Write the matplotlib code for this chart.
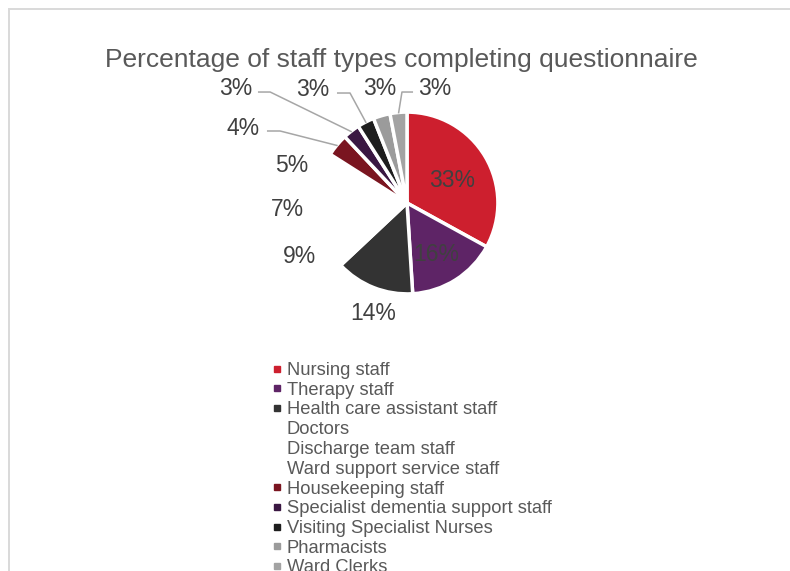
import numpy as np
import matplotlib
matplotlib.use("Agg")
import matplotlib.pyplot as plt
from matplotlib.lines import Line2D
from matplotlib.patches import Rectangle

plt.rcParams['font.family'] = ['Liberation Sans', 'DejaVu Sans']

# data
staff_types = ['Nursing staff', 'Therapy staff', 'Health care assistant staff',
               'Doctors', 'Discharge team staff', 'Ward support service staff',
               'Housekeeping staff', 'Specialist dementia support staff',
               'Visiting Specialist Nurses', 'Pharmacists', 'Ward Clerks']
percentages = [33, 16, 14, 9, 7, 5, 4, 3, 3, 3, 3]
colors = ['#CD1F2E', '#5E2466', '#333333', '#FFFFFF', '#FFFFFF', '#FFFFFF',
          '#7A1520', '#3A1742', '#1E1E1E', '#9B9B9B', '#A3A3A3']

W, H = 790, 571
cx, cy, R = 407, 203, 90   # pie centre / radius in pixels

fig = plt.figure(figsize=(W / 100, H / 100), dpi=100)
ax = fig.add_axes([0, 0, 1, 1])

wedges, _ = ax.pie(percentages, colors=colors, startangle=90, counterclock=False,
                   radius=1.01, center=(0, 0), frame=True,
                   wedgeprops=dict(edgecolor='white', linewidth=2.5))
ax.set_xlim(-cx / R, (W - cx) / R)
ax.set_ylim((cy - H) / R, cy / R)
ax.set_aspect('equal')
ax.axis('off')

# label positions (radius units) as Excel placed them
label_pos = [(0.50, 0.28), (0.33, -0.545), (-0.38, -1.20), (-1.195, -0.567),
             (-1.33, -0.04), (-1.285, 0.44), (-1.82, 0.85), (-1.905, 1.295),
             (-1.045, 1.29), (-0.305, 1.295), (0.31, 1.30)]
# leader lines: index -> (elbow, end)
leaders = {6: ((-1.41, 0.80), (-1.556, 0.80)),
           7: ((-1.52, 1.233), (-1.656, 1.233)),
           8: ((-0.633, 1.222), (-0.778, 1.222)),
           10: ((-0.056, 1.233), (0.067, 1.233))}

for i, (w, p) in enumerate(zip(wedges, percentages)):
    x, y = label_pos[i]
    ax.text(x, y, f'{p}%', ha='center', va='center_baseline', fontsize=16.5,
            color='#404040')
    if i in leaders:
        mid = np.deg2rad((w.theta1 + w.theta2) / 2)
        ex, ey = 1.0 * np.cos(mid), 1.0 * np.sin(mid)
        (bx, by), (tx, ty) = leaders[i]
        ax.plot([ex, bx, tx], [ey, by, ty], color='#A6A6A6', lw=1.1,
                solid_capstyle='butt')

fig.text(401.5 / W, 1 - 58 / H, 'Percentage of staff types completing questionnaire',
         ha='center', va='center_baseline', fontsize=19.0, color='#595959')

handles = [Line2D([], [], marker='s', linestyle='none', markersize=3.8,
                  markerfacecolor=c, markeredgecolor=c) for c in colors]
fig.legend(handles, staff_types, loc='upper left',
           bbox_to_anchor=(271 / W, 1 - 362 / H), frameon=False,
           fontsize=13.2, labelcolor='#595959', handlelength=0.6,
           handletextpad=0.25, labelspacing=0.15, borderpad=0, borderaxespad=0)

fig.patches.append(Rectangle((9.3 / W, -0.1), 1.2, 1 - 9.3 / H + 0.1,
                             transform=fig.transFigure, fill=False,
                             edgecolor='#D9D9D9', linewidth=1.4))

fig.savefig('out.png', dpi=100)
